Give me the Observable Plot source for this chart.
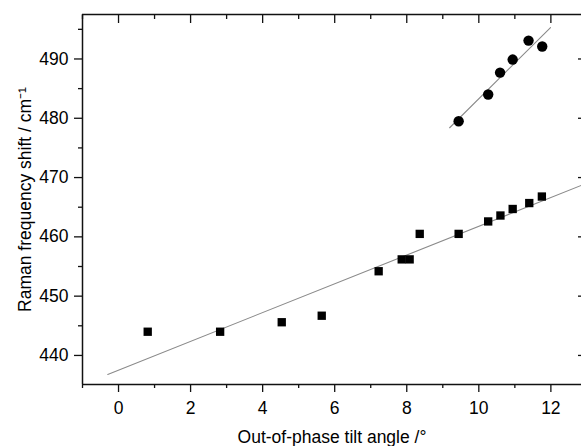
<!DOCTYPE html>
<html><head><meta charset="utf-8">
<script src="https://cdn.jsdelivr.net/npm/d3@7"></script>
<script src="https://cdn.jsdelivr.net/npm/@observablehq/plot@0.6"></script>
<style>
body{margin:0;background:#fff}
svg{font-family:"Liberation Sans",Arial,sans-serif}
</style>
</head><body><div id="chart"></div>
<script>
// Squares (lower series)
const squareX = [0.81, 2.82, 4.53, 5.64, 7.22, 7.86, 8.08, 8.36, 9.44, 10.26, 10.6, 10.94, 11.4, 11.75];
const squareY = [444.0, 444.0, 445.6, 446.7, 454.2, 456.2, 456.2, 460.5, 460.5, 462.6, 463.6, 464.7, 465.7, 466.8];
// Circles (upper series)
const circleX = [9.44, 10.26, 10.59, 10.94, 11.38, 11.76];
const circleY = [479.5, 484.0, 487.7, 489.9, 493.1, 492.1];
// Linear fit lines (end points)
const squareFitX = [-0.3, 12.85];
const squareFitY = [436.8, 468.7];
const circleFitX = [9.19, 11.99];
const circleFitY = [478.4, 495.3];
// Ticks
const xMajor = [0, 2, 4, 6, 8, 10, 12];
const xMinor = [-1, 1, 3, 5, 7, 9, 11];
const yMajor = [440, 450, 460, 470, 480, 490];
const yMinor = [445, 455, 465, 475, 485, 495];
const xDomain = [-1, 12.85];
const yDomain = [435.1, 497.5];
const xLabel = "Out-of-phase tilt angle /°";
const yLabel = "Raman frequency shift / cm⁻¹";

const squares = squareX.map((x, i) => ({x, y: squareY[i]}));
const circles = circleX.map((x, i) => ({x, y: circleY[i]}));
const squareFit = squareFitX.map((x, i) => ({x, y: squareFitY[i]}));
const circleFit = circleFitX.map((x, i) => ({x, y: circleFitY[i]}));

const frameColor = "#111";
const empty = () => "";
const fs = 17.5;

const chart = Plot.plot({
  width: 581, height: 446,
  marginLeft: 82, marginTop: 14, marginRight: 0, marginBottom: 62,
  x: {domain: xDomain},
  y: {domain: yDomain},
  style: {fontSize: "17.5px", fontFamily: "'Liberation Sans', Arial, sans-serif", color: "#000", background: "#fff"},
  marks: [
    Plot.line(squareFit, {x: "x", y: "y", stroke: "#8a8a8a", strokeWidth: 1.1, clip: true}),
    Plot.line(circleFit, {x: "x", y: "y", stroke: "#8a8a8a", strokeWidth: 1.1, clip: true}),
    Plot.dot(squares, {x: "x", y: "y", symbol: "square", r: 4.7, fill: "#000", stroke: "none"}),
    Plot.dot(circles, {x: "x", y: "y", symbol: "circle", r: 5.2, fill: "#000", stroke: "none"}),
    // frame lines
    Plot.ruleX([xDomain[0]], {stroke: frameColor, strokeWidth: 1.5}),
    Plot.ruleY([yDomain[0]], {stroke: frameColor, strokeWidth: 1.5}),
    Plot.ruleY([yDomain[1]], {stroke: frameColor, strokeWidth: 1.5}),
    // left axis
    Plot.axisY(yMajor, {anchor: "left", tickSize: 8, tickPadding: 6, strokeWidth: 1.3, stroke: frameColor, fill: "#000", fontSize: fs,
      label: yLabel, labelAnchor: "center", labelOffset: 64, labelArrow: "none"}),
    Plot.axisY(yMinor, {anchor: "left", tickSize: 4, strokeWidth: 1.3, stroke: frameColor, tickFormat: empty, label: null}),
    // bottom axis
    Plot.axisX(xMajor, {anchor: "bottom", tickSize: 8, tickPadding: 9, strokeWidth: 1.3, stroke: frameColor, fill: "#000", fontSize: fs,
      label: xLabel, labelAnchor: "center", labelOffset: 58, labelArrow: "none"}),
    Plot.axisX(xMinor, {anchor: "bottom", tickSize: 4, strokeWidth: 1.3, stroke: frameColor, tickFormat: empty, label: null}),
    // top axis (inward ticks)
    Plot.axisX(xMajor, {anchor: "top", tickSize: 8, dy: 8, strokeWidth: 1.3, stroke: frameColor, tickFormat: empty, label: null}),
    Plot.axisX(xMinor, {anchor: "top", tickSize: 4, dy: 4, strokeWidth: 1.3, stroke: frameColor, tickFormat: empty, label: null}),
    // right axis (inward ticks)
    Plot.axisY(yMajor, {anchor: "right", tickSize: 4, dx: -4, strokeWidth: 1.3, stroke: frameColor, tickFormat: empty, label: null})
  ]
});
document.getElementById("chart").appendChild(chart);
</script>
</body></html>
